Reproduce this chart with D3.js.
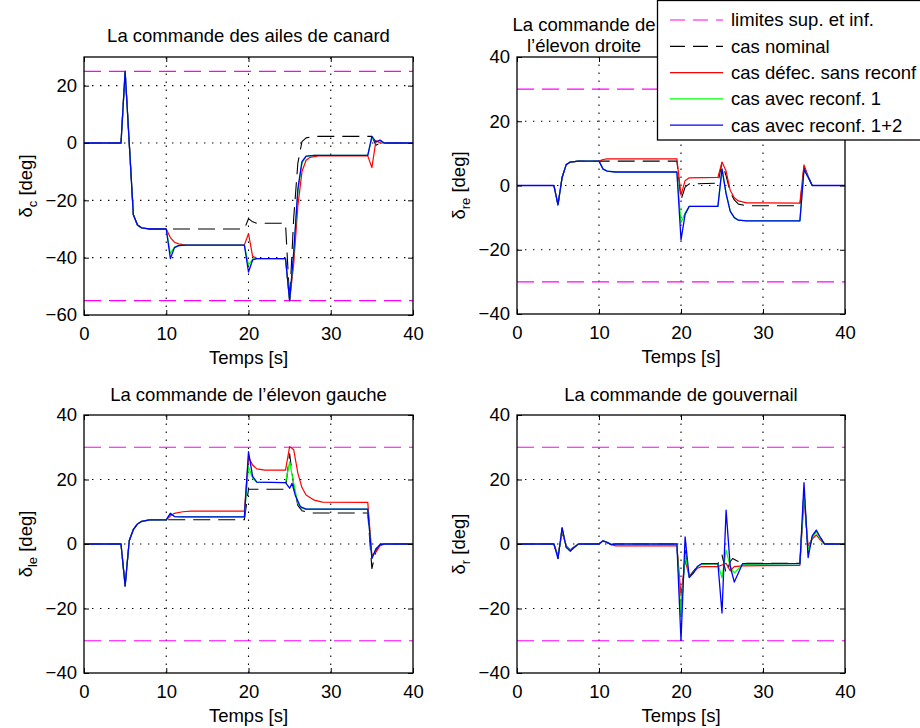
<!DOCTYPE html>
<html>
<head>
<meta charset="utf-8">
<script src="https://cdn.jsdelivr.net/npm/d3@7"></script>
<style>
  body { margin: 0; background: #fff; }
  svg { display: block; font-family: "Liberation Sans", Arial, Helvetica, sans-serif; }
</style>
</head>
<body>
<svg id="fig" width="920" height="728"></svg>
<script>
// ---- axis ticks ----
const timeTicks = [0, 10, 20, 30, 40];
const canardTicks = [-60, -40, -20, 0, 20];
const surfaceTicks = [-40, -20, 0, 20, 40];

// ---- saturation limits [deg] ----
const canardLimits = [25, -55];
const surfaceLimits = [30, -30];

// ---- legend ----
const legendLabels = ["limites sup. et inf.", "cas nominal", "cas défec. sans reconf", "cas avec reconf. 1", "cas avec reconf. 1+2"];

// ---- canard deflection δc [deg] vs time [s] ----
const canardNominal = [[0,0],[4.5,0],[5,25],[5.5,0],[6,-25],[6.5,-28.6],[7,-29.6],[8,-30],[19.5,-30],[20,-26.4],[20.5,-27.5],[21,-28],[24.5,-28],[25,-55],[25.5,-26],[26,-7],[26.5,0.5],[27,1.8],[28,2.3],[34.5,2.3],[35,2.3],[35.5,-0.8],[36,0],[40,0]];
const canardFault = [[0,0],[4.5,0],[5,25],[5.5,0],[6,-25],[6.5,-28.6],[7,-29.6],[8,-30],[10,-30],[10.5,-33],[11,-34.6],[11.5,-35.2],[12.5,-35.6],[19.5,-35.6],[20,-31.6],[20.5,-39.5],[21,-40.2],[24.5,-40.3],[25,-55],[25.5,-42],[26,-22],[26.5,-10],[27,-6],[27.5,-5],[28.5,-4.5],[34.5,-4.5],[35,-8.6],[35.5,0.8],[36,0],[40,0]];
const canardReconf1 = [[0,0],[4.5,0],[5,25],[5.5,0],[6,-25],[6.5,-28.6],[7,-29.6],[8,-30],[10,-30],[10.5,-38.5],[11,-36.3],[11.5,-35.8],[12.5,-35.6],[19.5,-35.6],[20,-42.5],[20.5,-40.5],[21,-40.3],[24.5,-40.3],[25,-55],[25.5,-39],[26,-17],[26.5,-7],[27,-4.7],[28,-4.3],[34.5,-4.3],[35,1.8],[35.5,0.4],[36,0.8],[36.5,0],[40,0]];
const canardReconf12 = [[0,0],[4.5,0],[5,25],[5.5,0],[6,-25],[6.5,-28.6],[7,-29.6],[8,-30],[10,-30],[10.5,-40.3],[11,-36.5],[11.5,-35.8],[12.5,-35.6],[19.5,-35.6],[20,-45],[20.5,-40.8],[21,-40.3],[24.5,-40.3],[25,-55],[25.5,-38],[26,-16],[26.5,-6.5],[27,-4.6],[28,-4.3],[34.5,-4.3],[35,2.3],[35.5,0.4],[36,1],[36.5,0],[40,0]];

// ---- right elevon δre [deg] ----
const rightNominal = [[0,0],[4.5,0],[5,-6],[5.5,2.5],[6,6.5],[6.5,7.3],[7.5,7.6],[19.5,7.6],[20,-4.4],[20.5,-0.5],[21,0.5],[24.5,0.7],[25,7.1],[25.5,3],[26,-2],[26.5,-4.5],[27,-5.8],[28,-6.3],[34.5,-6.3],[35,5.8],[35.5,2.8],[36,0],[40,0]];
const rightFault = [[0,0],[4.5,0],[5,-6],[5.5,2.5],[6,6.5],[6.5,7.3],[7.5,7.6],[10,7.6],[10.5,8.1],[11,8.3],[19.5,8.3],[20,-3],[20.5,1.5],[21,2.4],[24.5,2.5],[25,7.3],[25.5,4.5],[26,-1.5],[26.5,-3.8],[27,-4.8],[28,-5.4],[34.5,-5.5],[35,6.4],[35.5,3],[36,0],[40,0]];
const rightReconf1 = [[0,0],[4.5,0],[5,-6],[5.5,2.5],[6,6.5],[6.5,7.3],[7.5,7.6],[10,7.6],[10.5,5.1],[11,4.5],[12,4.2],[19.5,4.2],[20,-11.7],[20.5,-8.5],[21,-6.5],[24.5,-6.5],[25,5.2],[25.5,-2.5],[26,-8],[26.5,-10],[27,-10.8],[28,-11],[34.5,-11],[35,5],[35.5,2.6],[36,0],[40,0]];
const rightReconf12 = [[0,0],[4.5,0],[5,-6],[5.5,2.5],[6,6.5],[6.5,7.3],[7.5,7.6],[10,7.6],[10.5,5.1],[11,4.5],[12,4.2],[19.5,4.2],[20,-16.9],[20.5,-9],[21,-6.5],[24.5,-6.5],[25,5.2],[25.5,-2.5],[26,-8],[26.5,-10],[27,-10.8],[28,-11],[34.5,-11],[35,5],[35.5,2.6],[36,0],[40,0]];

// ---- left elevon δle [deg] ----
const leftNominal = [[0,0],[4.5,0],[5,-13],[5.5,1],[6,4.5],[6.5,6.2],[7,7],[8,7.5],[19.5,7.5],[20,17],[24.5,17],[25,28],[25.5,18],[26,12],[26.5,10.3],[27.5,9.6],[34.5,9.6],[35,-7.6],[35.5,-2],[36,0],[40,0]];
const leftFault = [[0,0],[4.5,0],[5,-13],[5.5,1],[6,4.5],[6.5,6.2],[7,7],[8,7.5],[10,7.5],[10.5,8.7],[11,9.5],[12,10],[13,10.2],[19.5,10.2],[20,27],[20.5,24.5],[21,23.3],[22,22.9],[24.5,22.9],[25,30.2],[25.5,29.2],[26,22],[26.5,17.5],[27,15.2],[28,13.6],[29,13],[34.5,12.9],[35,-3.5],[35.5,-2.5],[36,-0.5],[36.5,0],[40,0]];
const leftReconf1 = [[0,0],[4.5,0],[5,-13],[5.5,1],[6,4.5],[6.5,6.2],[7,7],[8,7.5],[10,7.5],[10.5,9.5],[11,8.5],[12,8.4],[19.5,8.4],[20,24],[20.5,20.4],[21,19.2],[24.5,19],[25,25.5],[25.5,18.8],[26,12.6],[26.5,11],[27,10.8],[34.5,10.8],[35,-4.5],[35.5,-1.5],[36,-0.3],[36.5,0],[40,0]];
const leftReconf12 = [[0,0],[4.5,0],[5,-13],[5.5,1],[6,4.5],[6.5,6.2],[7,7],[8,7.5],[10,7.5],[10.5,9.5],[11,8.5],[12,8.4],[19.5,8.4],[20,28.6],[20.5,21],[21,19.2],[24.5,19],[25,17.3],[25.3,18.8],[25.7,15],[26.3,11.6],[27,10.8],[34.5,10.8],[35,-4.5],[35.5,-1.5],[36,-0.3],[36.5,0],[40,0]];

// ---- rudder δr [deg] ----
const rudderNominal = [[0,0],[4.5,0],[5,-4.5],[5.5,5],[6,-1],[6.5,-2.2],[7,-1],[7.5,0],[10,0],[10.5,1],[11,0.5],[11.5,-0.2],[12,0],[19.5,0],[20,-22],[20.5,-2],[21,-10],[21.5,-8.5],[22,-7],[22.5,-6.1],[24.5,-6.1],[25,-3.4],[25.5,-9.1],[26,-5.5],[26.3,-4.5],[26.8,-5.2],[27.5,-6],[34.5,-6],[35,17],[35.5,-3],[36,2],[36.5,4],[37,2],[37.5,0],[40,0]];
const rudderFault = [[0,0],[4.5,0],[5,-3.5],[5.5,3.5],[6,-0.5],[6.5,-1.8],[7,-0.8],[7.5,0],[10,0],[10.5,1],[11,0.3],[12,-0.6],[19.5,-0.6],[20,-16],[20.5,-5],[21,-10],[21.5,-9],[22,-7.5],[22.5,-7],[24.5,-7],[25,-6.5],[25.5,-6],[26,-8.3],[26.5,-7],[27.5,-6.8],[34.5,-6.6],[35,14],[35.5,-0.5],[36,1.5],[36.5,2.8],[37,1.2],[37.5,0],[40,0]];
const rudderReconf1 = [[0,0],[4.5,0],[5,-4],[5.5,4.2],[6,-0.8],[6.5,-2],[7,-1],[7.5,0],[10,0],[10.5,1],[11,0.5],[11.5,0],[19.5,0],[20,-22.5],[20.5,-3],[21,-10.2],[21.5,-9],[22,-7],[22.5,-6.3],[24.5,-6.1],[25,-10.5],[25.5,-1.9],[26,-7],[26.5,-9],[27.5,-6.3],[34.5,-6.1],[35,16],[35.5,-2],[36,2],[36.5,3.8],[37,1.5],[37.5,0],[40,0]];
const rudderReconf12 = [[0,0],[4.5,0],[5,-4.5],[5.5,5],[6,-1],[6.5,-2.2],[7,-1],[7.5,0],[10,0],[10.5,1],[11,0.5],[11.5,-0.2],[12,0],[19.5,0],[20,-29.9],[20.5,2.2],[21,-10.4],[21.5,-9],[22,-7],[22.5,-6.1],[24.5,-6.1],[25,-21.4],[25.5,10.5],[26,-6.9],[26.5,-11.8],[27.5,-6.1],[34.5,-6.1],[35,19],[35.5,-4.2],[36,2.5],[36.5,4.3],[37,2],[37.5,0],[40,0]];

// ---- styles ----
const FONT = 18.5;
const DASH = "17,8";
const limitStyle = { color: "#ff00ff", dash: DASH };
const seriesStyles = [
  { color: "#000000", dash: DASH, width: 1.1 },
  { color: "#ff0000", dash: null, width: 1.2 },
  { color: "#00ff00", dash: null, width: 1.2 },
  { color: "#0000ff", dash: null, width: 1.3 }
];

const panels = [
  { id: "c", left: 84, right: 413, top: 57, bottom: 315, yDomain: [-60, 30], yTicks: canardTicks, limits: canardLimits,
    series: [canardNominal, canardFault, canardReconf1, canardReconf12], sub: "c",
    title: ["La commande des ailes de canard"], titleX: 248.5, titleY: [42] },
  { id: "re", left: 517, right: 845, top: 57, bottom: 314, yDomain: [-40, 40], yTicks: surfaceTicks, limits: surfaceLimits,
    series: [rightNominal, rightFault, rightReconf1, rightReconf12], sub: "re",
    title: ["La commande de", "l\u2019élevon droite"], titleX: 584, titleY: [31, 52] },
  { id: "le", left: 84, right: 413, top: 415, bottom: 673, yDomain: [-40, 40], yTicks: surfaceTicks, limits: surfaceLimits,
    series: [leftNominal, leftFault, leftReconf1, leftReconf12], sub: "le",
    title: ["La commande de l\u2019élevon gauche"], titleX: 248.5, titleY: [401] },
  { id: "r", left: 517, right: 845, top: 415, bottom: 673, yDomain: [-40, 40], yTicks: surfaceTicks, limits: surfaceLimits,
    series: [rudderNominal, rudderFault, rudderReconf1, rudderReconf12], sub: "r",
    title: ["La commande de gouvernail"], titleX: 681, titleY: [401] }
];

const svg = d3.select("#fig");
const defs = svg.append("defs");

function styleAxis(sel) {
  sel.attr("font-size", FONT).attr("font-family", "Liberation Sans, Arial, Helvetica, sans-serif");
  sel.select(".domain").remove();
  sel.selectAll(".tick line").attr("stroke", "#000").attr("stroke-width", 1);
  sel.selectAll(".tick text").attr("fill", "#000");
}

function drawPanel(p) {
  const g = svg.append("g").attr("class", "panel-" + p.id);
  const x = d3.scaleLinear().domain([0, 40]).range([p.left, p.right]);
  const y = d3.scaleLinear().domain(p.yDomain).range([p.bottom, p.top]);

  defs.append("clipPath").attr("id", "clip-" + p.id)
    .append("rect").attr("x", p.left).attr("y", p.top)
    .attr("width", p.right - p.left).attr("height", p.bottom - p.top);

  // dotted grid
  const grid = g.append("g").attr("stroke", "#000").attr("stroke-width", 1.1).attr("stroke-dasharray", "1.4,6.6");
  grid.selectAll("line.vx").data(timeTicks.filter(t => t > 0 && t < 40)).join("line")
    .attr("x1", d => x(d)).attr("x2", d => x(d)).attr("y1", p.bottom).attr("y2", p.top);
  grid.selectAll("line.hy").data(p.yTicks.filter(v => v > p.yDomain[0] && v < p.yDomain[1])).join("line")
    .attr("x1", p.left).attr("x2", p.right).attr("y1", d => y(d)).attr("y2", d => y(d));

  const line = d3.line().x(d => x(d[0])).y(d => y(d[1]));
  const plot = g.append("g").attr("clip-path", "url(#clip-" + p.id + ")").attr("fill", "none");

  // saturation limits
  plot.selectAll("path.limit").data(p.limits).join("path")
    .attr("d", v => line([[0, v], [40, v]]))
    .attr("stroke", limitStyle.color).attr("stroke-width", 1.2).attr("stroke-dasharray", limitStyle.dash);

  // command histories
  p.series.forEach((s, i) => {
    const st = seriesStyles[i];
    plot.append("path").attr("d", line(s))
      .attr("stroke", st.color).attr("stroke-width", st.width)
      .attr("stroke-linejoin", "round")
      .attr("stroke-dasharray", st.dash);
  });

  // axes with inward ticks on all four sides
  const tick = 5;
  g.append("g").attr("transform", `translate(0,${p.bottom})`)
    .call(d3.axisBottom(x).tickValues(timeTicks).tickSize(-tick).tickSizeOuter(0).tickPadding(12).tickFormat(d3.format("d")))
    .call(styleAxis);
  g.append("g").attr("transform", `translate(0,${p.top})`)
    .call(d3.axisTop(x).tickValues(timeTicks).tickSize(-tick).tickSizeOuter(0).tickFormat(""))
    .call(styleAxis);
  g.append("g").attr("transform", `translate(${p.left},0)`)
    .call(d3.axisLeft(y).tickValues(p.yTicks).tickSize(-tick).tickSizeOuter(0).tickPadding(7).tickFormat(d3.format("d")))
    .call(styleAxis);
  g.append("g").attr("transform", `translate(${p.right},0)`)
    .call(d3.axisRight(y).tickValues(p.yTicks).tickSize(-tick).tickSizeOuter(0).tickFormat(""))
    .call(styleAxis);

  // frame
  g.append("rect").attr("x", p.left).attr("y", p.top)
    .attr("width", p.right - p.left).attr("height", p.bottom - p.top)
    .attr("fill", "none").attr("stroke", "#000").attr("stroke-width", 1.3);

  // title
  const tt = g.append("text").attr("text-anchor", "middle").attr("font-size", FONT).attr("fill", "#000");
  p.title.forEach((t, i) => {
    tt.append("tspan").attr("x", p.titleX).attr("y", p.titleY[i]).text(t);
  });

  // x label
  g.append("text").attr("x", (p.left + p.right) / 2).attr("y", p.bottom + 49)
    .attr("text-anchor", "middle").attr("font-size", FONT).attr("fill", "#000").text("Temps [s]");

  // y label with subscript
  const yl = g.append("text")
    .attr("transform", `translate(${p.left - 52},${(p.top + p.bottom) / 2}) rotate(-90)`)
    .attr("text-anchor", "middle").attr("font-size", FONT).attr("fill", "#000");
  yl.append("tspan").text("δ");
  yl.append("tspan").attr("font-size", 13).attr("dy", 5).text(p.sub);
  yl.append("tspan").attr("dy", -5).text(" [deg]");
}

panels.forEach(drawPanel);

// legend box over the upper-right axes
const lg = svg.append("g").attr("class", "legend");
lg.append("rect").attr("x", 657.5).attr("y", 0.5).attr("width", 300).attr("height", 139.5)
  .attr("fill", "#fff").attr("stroke", "#000").attr("stroke-width", 1.3);
const legendStyles = [limitStyle].concat(seriesStyles);
legendLabels.forEach((lab, i) => {
  const cy = 20 + i * 26.3;
  const st = legendStyles[i];
  lg.append("line").attr("x1", 670).attr("x2", 723).attr("y1", cy).attr("y2", cy)
    .attr("stroke", st.color).attr("stroke-width", 1.2)
    .attr("stroke-dasharray", st.dash ? "15,8" : null);
  lg.append("text").attr("x", 731).attr("y", cy).attr("dy", "0.35em")
    .attr("font-size", FONT).attr("fill", "#000").text(lab);
});
</script>
</body>
</html>
